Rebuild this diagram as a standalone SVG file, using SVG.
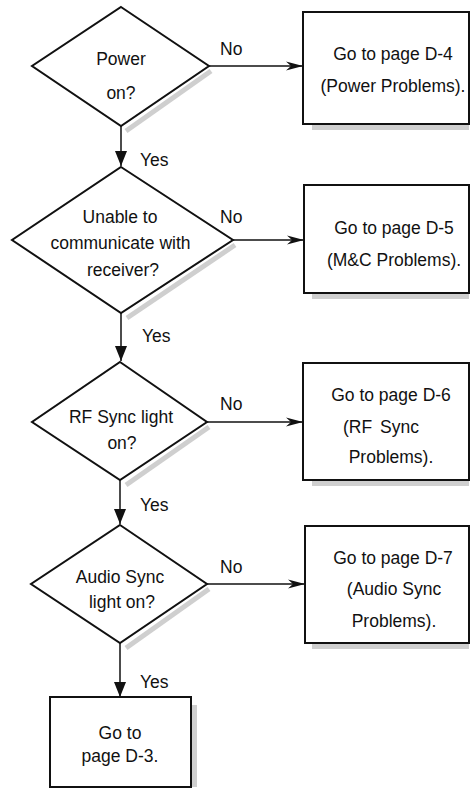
<svg xmlns="http://www.w3.org/2000/svg" width="471" height="792" viewBox="0 0 471 792">
  <defs>
    <style>
      .shape { fill: #ffffff; stroke: #111111; stroke-width: 2; stroke-linejoin: miter; }
      .shadow { fill: none; stroke: #cfcfcf; stroke-width: 5; }
      .wire { fill: none; stroke: #111111; stroke-width: 1.5; }
      .txt { font-family: "Liberation Sans", Arial, Helvetica, sans-serif; font-size: 17.5px; fill: #111111; text-anchor: middle; }
      .lbl { font-family: "Liberation Sans", Arial, Helvetica, sans-serif; font-size: 17.5px; fill: #111111; }
    </style>
    <!-- solid head for the downward flow -->
    <marker id="down" viewBox="0 0 15 12" refX="15" refY="6" markerWidth="15" markerHeight="12" markerUnits="userSpaceOnUse" orient="auto">
      <path d="M0,0 L15,6 L0,12 Z" fill="#111111"/>
    </marker>
    <!-- notched head for the side branches -->
    <marker id="barb" viewBox="0 0 17 11" refX="17" refY="5.5" markerWidth="17" markerHeight="11" markerUnits="userSpaceOnUse" orient="auto">
      <path d="M0,1 L17,5.5 L0,10 L5,5.5 Z" fill="#111111"/>
    </marker>
  </defs>

  <rect width="471" height="792" fill="#ffffff"/>

  <!-- soft drop shadows under the shapes -->
  <g id="shadows">
    <polyline class="shadow" points="211,71 126,131"/>
    <polyline class="shadow" points="235,245 127,318"/>
    <polyline class="shadow" points="209,427 126,485"/>
    <polyline class="shadow" points="209,589 126,648"/>
    <line class="shadow" x1="312" y1="127.5" x2="469" y2="127.5" stroke-width="3"/>
    <line class="shadow" x1="312" y1="296.5" x2="469" y2="296.5" stroke-width="3"/>
    <line class="shadow" x1="312" y1="483.5" x2="469" y2="483.5" stroke-width="3"/>
    <line class="shadow" x1="312" y1="646.5" x2="469" y2="646.5" stroke-width="3"/>
    <line class="shadow" x1="194.5" y1="705" x2="194.5" y2="787" stroke-width="3" stroke="#e2e2e2"/>
  </g>

  <!-- connectors -->
  <g id="connectors">
    <line class="wire" x1="121" y1="126" x2="121" y2="166" marker-end="url(#down)"/>
    <line class="wire" x1="121" y1="313" x2="121" y2="361" marker-end="url(#down)"/>
    <line class="wire" x1="120" y1="480" x2="120" y2="524" marker-end="url(#down)"/>
    <line class="wire" x1="120" y1="643" x2="120" y2="697" marker-end="url(#down)"/>

    <line class="wire" x1="209" y1="66" x2="303" y2="66" marker-end="url(#barb)"/>
    <line class="wire" x1="233" y1="240" x2="304" y2="240" marker-end="url(#barb)"/>
    <line class="wire" x1="207" y1="422" x2="303" y2="422" marker-end="url(#barb)"/>
    <line class="wire" x1="207" y1="584" x2="305" y2="584" marker-end="url(#barb)"/>

    <text class="lbl" x="220" y="55">No</text>
    <text class="lbl" x="220" y="223">No</text>
    <text class="lbl" x="220" y="410">No</text>
    <text class="lbl" x="220" y="573">No</text>

    <text class="lbl" x="140" y="166">Yes</text>
    <text class="lbl" x="142" y="342">Yes</text>
    <text class="lbl" x="140" y="511">Yes</text>
    <text class="lbl" x="140" y="688">Yes</text>
  </g>

  <!-- decisions -->
  <g id="power-on">
    <polygon class="shape" points="121,7 209,66 121,126 32,66"/>
    <text class="txt" x="121" y="65">Power</text>
    <text class="txt" x="121" y="99">on?</text>
  </g>

  <g id="unable-to-communicate">
    <polygon class="shape" points="121,167 233,240 121,313 12,240"/>
    <text class="txt" x="120" y="223">Unable to</text>
    <text class="txt" x="120.5" y="249">communicate with</text>
    <text class="txt" x="123" y="276">receiver?</text>
  </g>

  <g id="rf-sync">
    <polygon class="shape" points="120,362 207,422 120,480 32,422"/>
    <text class="txt" x="121" y="423">RF Sync light</text>
    <text class="txt" x="122" y="449">on?</text>
  </g>

  <g id="audio-sync">
    <polygon class="shape" points="120,525 207,584 120,643 31,584"/>
    <text class="txt" x="120" y="583">Audio Sync</text>
    <text class="txt" x="122" y="608">light on?</text>
  </g>

  <!-- outcomes -->
  <g id="page-d4">
    <rect class="shape" x="303" y="12" width="166" height="112"/>
    <text class="txt" x="393" y="60">Go to page D-4</text>
    <text class="txt" x="393" y="92">(Power Problems).</text>
  </g>

  <g id="page-d5">
    <rect class="shape" x="304" y="185" width="165" height="108"/>
    <text class="txt" x="394" y="234">Go to page D-5</text>
    <text class="txt" x="394" y="266">(M&amp;C Problems).</text>
  </g>

  <g id="page-d6">
    <rect class="shape" x="303" y="363" width="166" height="117"/>
    <text class="txt" x="391" y="401">Go to page D-6</text>
    <text class="txt" x="381" y="433" word-spacing="3">(RF Sync</text>
    <text class="txt" x="391" y="463">Problems).</text>
  </g>

  <g id="page-d7">
    <rect class="shape" x="305" y="526" width="164" height="117"/>
    <text class="txt" x="393" y="564">Go to page D-7</text>
    <text class="txt" x="394" y="595">(Audio Sync</text>
    <text class="txt" x="394" y="627">Problems).</text>
  </g>

  <g id="page-d3">
    <rect class="shape" x="50" y="697" width="141" height="90"/>
    <text class="txt" x="120" y="739">Go to</text>
    <text class="txt" x="120" y="762">page D-3.</text>
  </g>
</svg>
